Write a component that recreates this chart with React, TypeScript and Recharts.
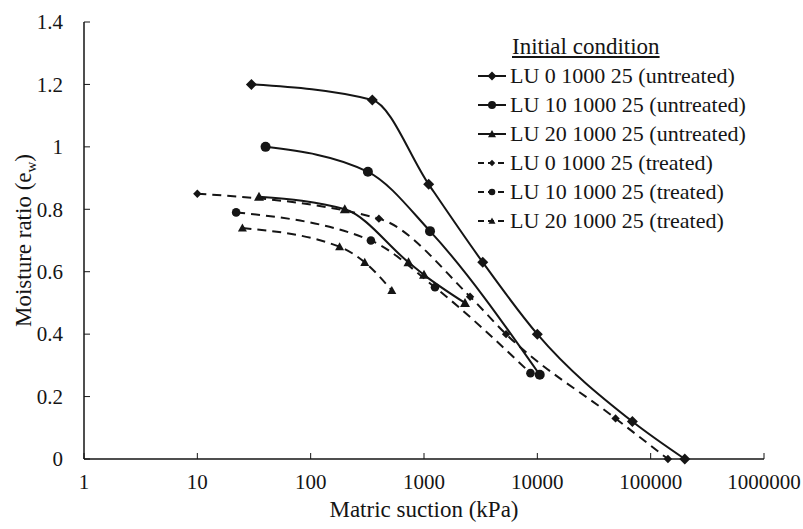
import { LineChart, Line, XAxis, YAxis } from "recharts";

const xTicks = [1, 10, 100, 1000, 10000, 100000, 1000000];
const yTicks = [0, 0.2, 0.4, 0.6, 0.8, 1, 1.2, 1.4];

// matric suction (kPa) / moisture ratio pairs
const lu0UntreatedSuction = [30, 350, 1100, 3300, 10000, 69000, 200000];
const lu0UntreatedRatio = [1.2, 1.15, 0.88, 0.63, 0.4, 0.12, 0];

const lu10UntreatedSuction = [40, 320, 1130, 10500];
const lu10UntreatedRatio = [1.0, 0.92, 0.73, 0.27];

const lu20UntreatedSuction = [35, 200, 730, 1000, 2300];
const lu20UntreatedRatio = [0.84, 0.8, 0.63, 0.59, 0.5];

const lu0TreatedSuction = [10, 400, 2550, 5300, 49000, 142000];
const lu0TreatedRatio = [0.85, 0.77, 0.52, 0.4, 0.13, 0];

const lu10TreatedSuction = [22, 340, 1250, 8700];
const lu10TreatedRatio = [0.79, 0.7, 0.55, 0.275];

const lu20TreatedSuction = [25, 180, 300, 520];
const lu20TreatedRatio = [0.74, 0.68, 0.63, 0.54];

const toPoints = (xs: number[], ys: number[]) => xs.map((x, i) => ({ suction: x, ratio: ys[i] }));

const FONT = '"Liberation Serif", "Times New Roman", serif';
const INK = "#151515";

type Shape = "diamond" | "circle" | "triangle";

const series = [
  { name: "LU 0 1000 25 (untreated)", data: toPoints(lu0UntreatedSuction, lu0UntreatedRatio), shape: "diamond" as Shape, dashed: false, size: 5.5 },
  { name: "LU 10 1000 25 (untreated)", data: toPoints(lu10UntreatedSuction, lu10UntreatedRatio), shape: "circle" as Shape, dashed: false, size: 5 },
  { name: "LU 20 1000 25 (untreated)", data: toPoints(lu20UntreatedSuction, lu20UntreatedRatio), shape: "triangle" as Shape, dashed: false, size: 5 },
  { name: "LU 0 1000 25 (treated)", data: toPoints(lu0TreatedSuction, lu0TreatedRatio), shape: "diamond" as Shape, dashed: true, size: 4.2 },
  { name: "LU 10 1000 25 (treated)", data: toPoints(lu10TreatedSuction, lu10TreatedRatio), shape: "circle" as Shape, dashed: true, size: 4.3 },
  { name: "LU 20 1000 25 (treated)", data: toPoints(lu20TreatedSuction, lu20TreatedRatio), shape: "triangle" as Shape, dashed: true, size: 4.5 },
];

function Marker({ cx, cy, shape, size }: { cx: number; cy: number; shape: Shape; size: number }) {
  if (cx == null || cy == null) return null;
  if (shape === "circle") return <circle cx={cx} cy={cy} r={size} fill={INK} />;
  if (shape === "diamond") {
    const s = size;
    return <polygon points={`${cx},${cy - s} ${cx + s},${cy} ${cx},${cy + s} ${cx - s},${cy}`} fill={INK} />;
  }
  const s = size;
  return <polygon points={`${cx},${cy - s} ${cx + s},${cy + s * 0.8} ${cx - s},${cy + s * 0.8}`} fill={INK} />;
}

function XTick(props: any) {
  const { x, y, payload } = props;
  return (
    <g>
      <line x1={x} y1={y} x2={x} y2={y - 6} stroke={INK} strokeWidth={1} />
      <text x={x} y={y + 30} textAnchor="middle" fontFamily={FONT} fontSize={21} fill={INK}>
        {String(payload.value)}
      </text>
    </g>
  );
}

function YTick(props: any) {
  const { x, y, payload } = props;
  return (
    <g>
      <line x1={x} y1={y} x2={x + 6} y2={y} stroke={INK} strokeWidth={1} />
      <text x={x - 21} y={y} dy="0.35em" textAnchor="end" fontFamily={FONT} fontSize={21} fill={INK}>
        {String(payload.value)}
      </text>
    </g>
  );
}

function LegendBox() {
  return (
    <div style={{ position: "absolute", left: 476, top: 32, fontFamily: FONT, fontSize: 22, color: INK, lineHeight: "29px" }}>
      <div style={{ paddingLeft: 36, fontSize: 23, textDecoration: "underline", whiteSpace: "nowrap" }}>Initial condition</div>
      {series.map((s) => (
        <div key={s.name} style={{ display: "flex", alignItems: "center", whiteSpace: "nowrap", height: 29 }}>
          <svg width={34} height={20} style={{ flex: "none" }}>
            <line x1={2} y1={10} x2={30} y2={10} stroke={INK} strokeWidth={2} strokeDasharray={s.dashed ? "6 4" : undefined} />
            <Marker cx={16} cy={10} shape={s.shape} size={s.size - 1} />
          </svg>
          <span>{s.name}</span>
        </div>
      ))}
    </div>
  );
}

export default function App() {
  return (
    <div style={{ position: "absolute", left: 0, top: 0, width: 803, height: 529, background: "#fff" }}>
      <LineChart width={803} height={529} margin={{ top: 22, right: 39, bottom: 40, left: 24 }}>
        <XAxis
          type="number"
          dataKey="suction"
          scale="log"
          domain={[1, 1000000]}
          ticks={xTicks}
          allowDataOverflow
          height={30}
          tickSize={0}
          tickMargin={0}
          tickLine={false}
          axisLine={{ stroke: INK, strokeWidth: 1.5 }}
          tick={<XTick />}
          interval={0}
          label={{
            content: (p: any) => {
              const vb = p.viewBox || {};
              return (
                <text x={vb.x + vb.width / 2} y={vb.y + 58} textAnchor="middle" fontFamily={FONT} fontSize={23} fill={INK}>
                  Matric suction (kPa)
                </text>
              );
            },
          }}
        />
        <XAxis
          xAxisId="frame"
          orientation="top"
          type="number"
          dataKey="suction"
          scale="log"
          domain={[1, 1000000]}
          allowDataOverflow
          height={0}
          tick={false}
          tickLine={false}
          axisLine={{ stroke: "#666", strokeWidth: 1 }}
        />
        <YAxis
          type="number"
          dataKey="ratio"
          domain={[0, 1.4]}
          ticks={yTicks}
          width={60}
          tickSize={0}
          tickMargin={0}
          tickLine={false}
          axisLine={{ stroke: INK, strokeWidth: 1.5 }}
          tick={<YTick />}
          interval={0}
          label={{
            content: (p: any) => {
              const vb = p.viewBox || {};
              const cy = vb.y + vb.height / 2;
              return (
                <text x={31} y={cy} transform={`rotate(-90, 31, ${cy})`} textAnchor="middle" fontFamily={FONT} fontSize={23} fill={INK}>
                  Moisture ratio (e
                  <tspan fontSize={15} dy={5}>w</tspan>
                  <tspan dy={-5}>)</tspan>
                </text>
              );
            },
          }}
        />
        <YAxis
          yAxisId="frame"
          orientation="right"
          type="number"
          domain={[0, 1.4]}
          width={0}
          tick={false}
          tickLine={false}
          axisLine={{ stroke: "#666", strokeWidth: 1 }}
        />
        {series.map((s) => (
          <Line
            key={s.name}
            name={s.name}
            data={s.data}
            dataKey="ratio"
            type="monotone"
            stroke={INK}
            strokeWidth={2}
            strokeDasharray={s.dashed ? "9 6" : undefined}
            isAnimationActive={false}
            dot={(p: any) => <Marker key={`${s.name}-${p.index}`} cx={p.cx} cy={p.cy} shape={s.shape} size={s.size} />}
            activeDot={false}
          />
        ))}
      </LineChart>
      <LegendBox />
    </div>
  );
}
